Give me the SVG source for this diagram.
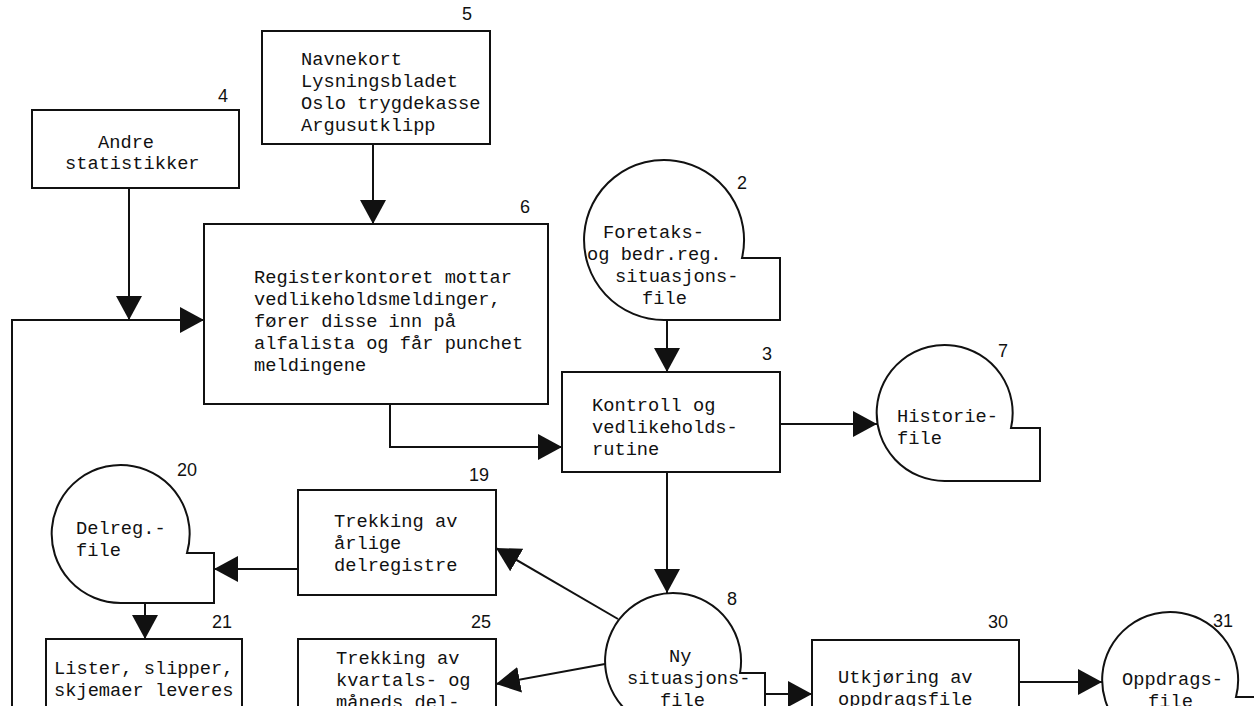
<svg xmlns="http://www.w3.org/2000/svg" width="1254" height="706" viewBox="0 0 1254 706">
<style>
.box{fill:#fff;stroke:#111;stroke-width:2}
.ln{fill:none;stroke:#111;stroke-width:2}
.t{font-family:"Liberation Mono","Courier New",monospace;font-size:18.7px;fill:#111}
.n{font-family:"Liberation Sans",Arial,sans-serif;font-size:18px;fill:#111;text-anchor:middle}
</style>
<defs>
<marker id="ah" markerUnits="userSpaceOnUse" markerWidth="26" markerHeight="28" refX="24" refY="13" orient="auto">
<path d="M0,0 L24,13 L0,26 Z" fill="#111"/>
</marker>
</defs>
<rect width="1254" height="706" fill="#fff"/>

<g id="connectors">
<path class="ln" d="M373,144 V224" marker-end="url(#ah)"/>
<path class="ln" d="M129,188 V320" marker-end="url(#ah)"/>
<path class="ln" d="M12,706 V320 H204" marker-end="url(#ah)"/>
<path class="ln" d="M390,404 V447 H562" marker-end="url(#ah)"/>
<path class="ln" d="M667,320 V372" marker-end="url(#ah)"/>
<path class="ln" d="M780,424 H877" marker-end="url(#ah)"/>
<path class="ln" d="M667,472 V593" marker-end="url(#ah)"/>
<path class="ln" d="M618,619 L496,548" marker-end="url(#ah)"/>
<path class="ln" d="M605,664 L496,684" marker-end="url(#ah)"/>
<path class="ln" d="M298,569 H214" marker-end="url(#ah)"/>
<path class="ln" d="M145,603 V639" marker-end="url(#ah)"/>
<path class="ln" d="M765,694 H812" marker-end="url(#ah)"/>
<path class="ln" d="M1019,682 H1102" marker-end="url(#ah)"/>
</g>

<g id="n4">
<rect class="box" x="32" y="110" width="207" height="78"/>
<text class="n" x="223" y="102">4</text>
<text class="t" x="98" y="148">Andre</text>
<text class="t" x="65" y="169">statistikker</text>
</g>

<g id="n5">
<rect class="box" x="262" y="31" width="228" height="113"/>
<text class="n" x="467" y="20">5</text>
<text class="t" x="301" y="65">Navnekort</text>
<text class="t" x="301" y="87">Lysningsbladet</text>
<text class="t" x="301" y="109">Oslo trygdekasse</text>
<text class="t" x="301" y="131">Argusutklipp</text>
</g>

<g id="n6">
<rect class="box" x="204" y="224" width="344" height="180"/>
<text class="n" x="525" y="213">6</text>
<text class="t" x="254" y="283">Registerkontoret mottar</text>
<text class="t" x="254" y="305">vedlikeholdsmeldinger,</text>
<text class="t" x="254" y="327">fører disse inn på</text>
<text class="t" x="254" y="349">alfalista og får punchet</text>
<text class="t" x="254" y="371">meldingene</text>
</g>

<g id="n2">
<path class="box" d="M664,320 A80,80 0 1 1 742,258 L780,258 L780,320 Z"/>
<text class="n" x="742" y="189">2</text>
<text class="t" x="603" y="238">Foretaks-</text>
<text class="t" x="587" y="260">og bedr.reg.</text>
<text class="t" x="615" y="282">situasjons-</text>
<text class="t" x="642" y="304">file</text>
</g>

<g id="n3">
<rect class="box" x="562" y="372" width="218" height="100"/>
<text class="n" x="767" y="360">3</text>
<text class="t" x="592" y="411">Kontroll og</text>
<text class="t" x="592" y="433">vedlikeholds-</text>
<text class="t" x="592" y="455">rutine</text>
</g>

<g id="n7">
<path class="box" d="M945,481 A68,68 0 1 1 1011,428 L1040,428 L1040,481 Z"/>
<text class="n" x="1003" y="357">7</text>
<text class="t" x="897" y="422">Historie-</text>
<text class="t" x="897" y="444">file</text>
</g>

<g id="n19">
<rect class="box" x="298" y="490" width="198" height="105"/>
<text class="n" x="479" y="481">19</text>
<text class="t" x="334" y="527">Trekking av</text>
<text class="t" x="334" y="549">årlige</text>
<text class="t" x="334" y="571">delregistre</text>
</g>

<g id="n20">
<path class="box" d="M121,603 A69,69 0 1 1 187,553 L214,553 L214,603 Z"/>
<text class="n" x="187" y="476">20</text>
<text class="t" x="76" y="534">Delreg.-</text>
<text class="t" x="76" y="556">file</text>
</g>

<g id="n21">
<rect class="box" x="46" y="639" width="196" height="80"/>
<text class="n" x="222" y="628">21</text>
<text class="t" x="54" y="674">Lister, slipper,</text>
<text class="t" x="54" y="696">skjemaer leveres</text>
</g>

<g id="n25">
<rect class="box" x="298" y="639" width="198" height="80"/>
<text class="n" x="481" y="628">25</text>
<text class="t" x="336" y="664">Trekking av</text>
<text class="t" x="336" y="686">kvartals- og</text>
<text class="t" x="336" y="708">måneds del-</text>
</g>

<g id="n8">
<path class="box" d="M673,729 A68,68 0 1 1 740,673 L765,673 L765,729 Z"/>
<text class="n" x="732" y="605">8</text>
<text class="t" x="669" y="662">Ny</text>
<text class="t" x="627" y="684">situasjons-</text>
<text class="t" x="660" y="706">file</text>
</g>

<g id="n30">
<rect class="box" x="812" y="640" width="207" height="80"/>
<text class="n" x="998" y="628">30</text>
<text class="t" x="838" y="683">Utkjøring av</text>
<text class="t" x="838" y="705">oppdragsfile</text>
</g>

<g id="n31">
<path class="box" d="M1170,748 A68,68 0 1 1 1236,697 L1260,697 L1260,748 Z"/>
<text class="n" x="1223" y="627">31</text>
<text class="t" x="1122" y="685">Oppdrags-</text>
<text class="t" x="1148" y="707">file</text>
</g>
</svg>
